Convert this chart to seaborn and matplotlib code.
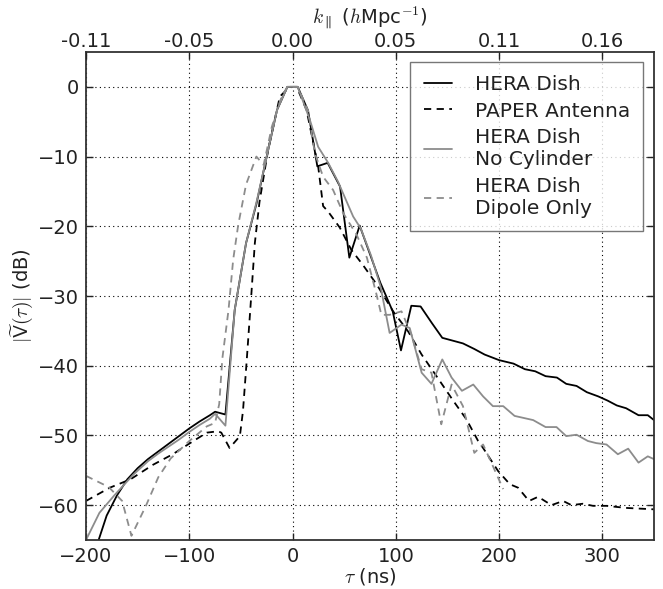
import numpy as np
import pandas as pd
import matplotlib
matplotlib.use("Agg")
import matplotlib.pyplot as plt
import seaborn as sns

# ---- data ----
hera_tau = [-190, -180, -170, -160, -150, -140, -130, -120, -110, -100, -90, -80, -75, -65,
            -56, -45, -35, -25, -15, -5, 5, 15, 24, 34, 46, 55, 65, 75, 85, 97, 105, 115,
            124, 135, 145, 155, 165, 176, 186, 200, 214, 225, 235, 245, 256, 265, 275,
            285, 296, 305, 314, 323, 335, 344, 350]
hera_db = [-66.0, -61.5, -58.6, -56.3, -54.7, -53.4, -52.3, -51.2, -50.1, -49.0, -48.0, -47.1,
           -46.6, -47.0, -32.0, -22.4, -16.8, -10.0, -3.3, 0.0, 0.0, -3.4, -11.4, -10.9, -14.3,
           -24.5, -19.9, -24.0, -28.1, -32.2, -37.8, -31.4, -31.5, -33.9, -36.0, -36.4, -36.8,
           -37.6, -38.4, -39.2, -39.7, -40.5, -40.8, -41.5, -41.7, -42.6, -42.9, -43.8, -44.4,
           -45.0, -45.7, -46.1, -47.1, -47.1, -47.8]

paper_tau = [-200, -177, -157, -135, -116, -96, -83, -72, -69, -61, -51, -48, -44.5, -40,
             -36.5, -32, -23.6, -12.3, -3, 4, 13.5, 24.8, 29.6, 34.5, 45.8, 57, 68.4, 81.3,
             97.4, 112, 125, 139.4, 155.5, 168.4, 179.7, 184.5, 199, 210.4, 218.4, 229,
             237.8, 250.7, 262, 270, 281, 291, 304, 323, 350]
paper_db = [-59.4, -57.5, -56.3, -54.2, -52.7, -50.8, -49.6, -49.4, -49.6, -51.8, -50.1, -46.5,
            -39.5, -30.0, -22.4, -16.5, -9.0, -1.4, 0.0, 0.0, -3.3, -11.4, -17.1, -17.9, -20.2,
            -23.4, -25.6, -28.3, -32.2, -35.1, -38.4, -41.5, -45.0, -47.7, -50.8, -51.8, -55.1,
            -57.0, -57.5, -59.4, -58.8, -60.0, -59.4, -60.0, -59.8, -60.1, -60.1, -60.4, -60.6]

nocyl_tau = [-200, -187, -172, -154, -140, -130, -120, -110, -100, -90, -80, -75, -65, -56,
             -45, -35, -25, -15, -5, 5, 16.7, 24.8, 34.5, 44, 58.7, 66, 76, 85, 94, 105.5,
             113.5, 125, 134.5, 145, 154, 164, 175, 184.5, 194, 204, 215, 224, 233, 245,
             255.6, 265, 275, 286, 294, 304, 315, 325, 335, 344, 350]
nocyl_db = [-65.0, -61.1, -58.5, -55.6, -53.7, -52.6, -51.6, -50.6, -49.5, -48.5, -47.6, -46.9,
            -48.6, -32.0, -22.4, -16.6, -10.0, -3.3, 0.0, 0.0, -4.7, -8.6, -10.9, -13.6, -18.6,
            -20.3, -24.2, -28.5, -35.3, -34.1, -34.6, -41.0, -42.6, -39.1, -41.7, -43.6, -42.7,
            -44.4, -45.8, -45.8, -47.2, -47.5, -47.8, -48.8, -48.8, -50.1, -49.9, -50.8, -51.1,
            -51.3, -52.7, -51.9, -53.9, -53.0, -53.4]

dipole_tau = [-200, -178, -165, -156, -142, -130, -118, -100, -83, -75, -71, -68, -62, -57.5,
              -52.6, -45, -35, -28, -20, -10.6, -5, 5, 15, 21.6, 29.6, 39.3, 49, 62, 72, 81,
              86, 94, 105.5, 115, 125, 134.5, 144, 154, 165, 176, 184.5, 194, 204]
dipole_db = [-55.8, -57.4, -59.4, -64.4, -60.1, -56.0, -53.3, -50.8, -48.7, -48.2, -45.5, -39.0,
             -32.0, -24.8, -19.8, -14.0, -10.0, -11.2, -5.7, -1.4, 0.0, 0.0, -3.4, -9.5, -12.9,
             -14.8, -18.1, -21.2, -24.5, -29.6, -32.7, -32.7, -32.2, -35.5, -40.5, -41.0, -48.4,
             -42.7, -45.8, -52.5, -51.3, -54.4, -57.7]

series_labels = ["HERA Dish", "PAPER Antenna", "HERA Dish\nNo Cylinder", "HERA Dish\nDipole Only"]

x_ticks = [-200, -100, 0, 100, 200, 300]
y_ticks = [-60, -50, -40, -30, -20, -10, 0]
k_tick_labels = ["-0.11", "-0.05", "0.00", "0.05", "0.11", "0.16"]

# ---- style ----
sns.set_style("ticks")
plt.rcParams.update({
    "font.family": ["DejaVu Sans"],
    "font.size": 14,
    "mathtext.fontset": "cm",
    "xtick.direction": "in",
    "ytick.direction": "in",
    "xtick.top": True,
    "ytick.right": True,
    "axes.edgecolor": "#333333",
    "axes.linewidth": 1.3,
    "text.color": "#222222",
    "xtick.color": "#222222",
    "ytick.color": "#222222",
    "axes.labelcolor": "#222222",
})

fig = plt.figure(figsize=(6.63, 5.89), dpi=100)
ax = fig.add_axes([86 / 663, 1 - 540 / 589, (654 - 86) / 663, (540 - 52) / 589])

gray = "0.55"
specs = [
    (hera_tau, hera_db, "black", "-"),
    (paper_tau, paper_db, "black", "--"),
    (nocyl_tau, nocyl_db, gray, "-"),
    (dipole_tau, dipole_db, gray, "--"),
]
for (t, d, c, ls), lab in zip(specs, series_labels):
    df = pd.DataFrame({"tau": t, "db": d})
    sns.lineplot(data=df, x="tau", y="db", ax=ax, sort=False, estimator=None,
                 color=c, linewidth=1.3, label=lab)
for line, (t, d, c, ls) in zip(ax.get_lines(), specs):
    if ls == "--":
        line.set_dashes((4, 3))

ax.set_xlim(-200, 350)
ax.set_ylim(-65, 5)
ax.set_xticks(x_ticks)
ax.set_yticks(y_ticks)
ax.grid(True, color="black", linestyle=(0, (1, 3)), linewidth=0.8)
ax.tick_params(length=5, width=1, labelsize=14, pad=5)
ax.set_xlabel(r"$\tau$ (ns)", fontsize=14, labelpad=0)
ax.set_ylabel(r"$|\widetilde{\mathsf{V}}(\tau)|$ (dB)", fontsize=14, labelpad=2)

ax2 = ax.twiny()
ax2.set_xlim(ax.get_xlim())
ax2.set_xticks(x_ticks)
ax2.set_xticklabels(k_tick_labels)
ax2.tick_params(length=5, width=1, labelsize=14, pad=1, direction="in")
ax2.set_xlabel(r"$k_\parallel$ ($h$Mpc$^{-1}$)", fontsize=14, labelpad=6)
for s in ax2.spines.values():
    s.set_visible(False)

leg = ax.legend(loc="upper right", bbox_to_anchor=(0.981, 0.980), borderaxespad=0,
                fontsize=14.5, frameon=True, fancybox=False, handlelength=1.4,
                handletextpad=1.15, labelspacing=0.38, borderpad=0.65)
leg.get_frame().set_edgecolor("#555555")
leg.get_frame().set_linewidth(1.0)
for h in leg.get_lines():
    h.set_linewidth(1.3)

fig.savefig("out.png", dpi=100)
